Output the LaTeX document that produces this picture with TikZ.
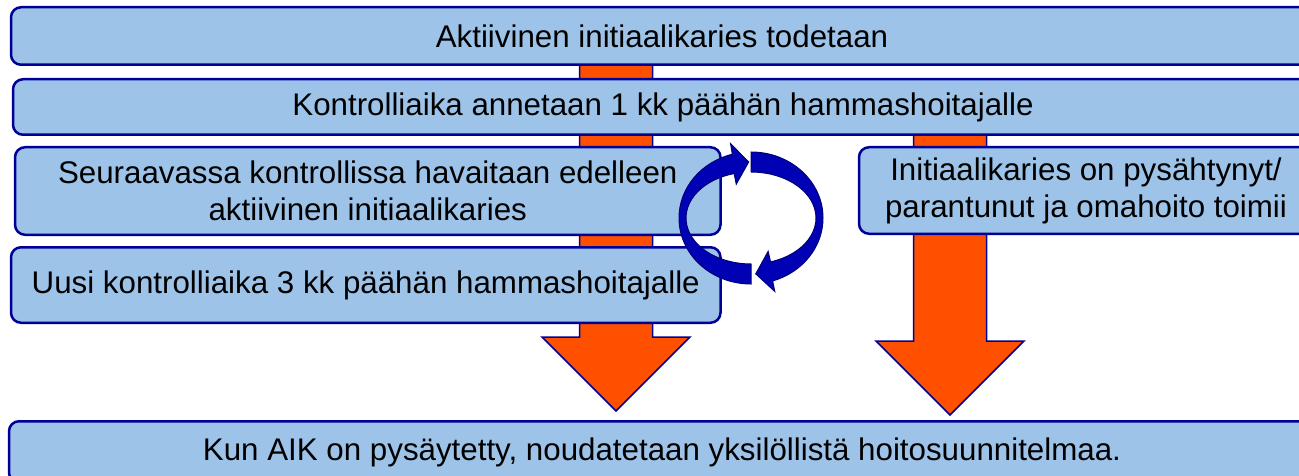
\documentclass[tikz,border=0pt]{standalone}
\usepackage{fontspec}
\setmainfont{Liberation Sans}
\usetikzlibrary{shapes,arrows,calc,positioning}
\definecolor{boxfill}{RGB}{157,195,233}
\definecolor{boxline}{RGB}{0,0,150}
\definecolor{arroworange}{RGB}{255,80,0}
\definecolor{cycleblue}{RGB}{0,0,180}
\definecolor{cycleline}{RGB}{0,0,120}
\tikzstyle{box} = [rectangle, rounded corners=10pt, draw=boxline, line width=2.5pt, fill=boxfill, inner sep=0pt, align=center, font=\fontsize{31.3}{37}\selectfont]
\tikzstyle{blockarrow} = [draw=boxline, line width=1.5pt, fill=arroworange, line join=miter]
\tikzstyle{cyclearrow} = [draw=cycleline, line width=1pt, fill=cycleblue, line join=miter]
\pgfdeclarelayer{background}
\pgfsetlayers{background,main}

% wide orange arrow pointing down: shaft centre x, shaft top, head base
\newcommand{\blockdown}[3]{%
  \draw [blockarrow] (#1-36.5,#2) -- (#1+36.5,#2) -- (#1+36.5,#3) -- (#1+74,#3)
    -- (#1,#3+74) -- (#1-74,#3) -- (#1-36.5,#3) -- cycle;
}

\begin{document}
\begin{tikzpicture}[x=1pt, y=-1pt]
	\useasboundingbox (0,0) rectangle (1299,476);
	\clip (0,0) rectangle (1299,476);

	\node [box, minimum width=1302pt, minimum height=57.5pt] (todetaan) at (662,36) {Aktiivinen initiaalikaries todetaan};
	\node [box, below=12pt of todetaan, xshift=1pt, minimum width=1300pt, minimum height=55.5pt] (annetaan) {Kontrolliaika annetaan 1 kk päähän hammashoitajalle};
	\node [box, below=10pt of annetaan.south west, anchor=north west, xshift=2pt, minimum width=705.5pt, minimum height=87.5pt] (havaitaan) {Seuraavassa kontrollissa havaitaan edelleen\\aktiivinen initiaalikaries};
	\node [box, below=10pt of havaitaan.south west, anchor=north west, xshift=-4pt, minimum width=709.5pt, minimum height=75.5pt] (uusi) {Uusi kontrolliaika 3 kk päähän hammashoitajalle};
	\node [box, right=136pt of havaitaan.north east, anchor=north west, minimum width=454pt, minimum height=86.5pt] (pysahtynyt) {Initiaalikaries on pysähtynyt/\\parantunut ja omahoito toimii};
	\node [box, below=96pt of uusi.south west, anchor=north west, xshift=-2pt, minimum width=1306pt, minimum height=61.5pt] (noudatetaan) {Kun AIK on pysäytetty, noudatetaan yksilöllistä hoitosuunnitelmaa.};

	% orange arrows run behind the boxes
	\begin{pgfonlayer}{background}
		\blockdown{616}{50}{337}
		\blockdown{950}{110}{341}
	\end{pgfonlayer}

	% the two curved arrows that go round between the boxes
	\coordinate (kierto) at (751,218);
	\draw [cyclearrow] ($(kierto)+(90:72 and 66)$) arc [start angle=90, end angle=255, x radius=72, y radius=66]
		-- ($(kierto)+(255:79 and 77)$) -- ($(kierto)+(268:68 and 56)$) -- ($(kierto)+(255:57 and 35)$)
		-- ($(kierto)+(255:65 and 46)$) arc [start angle=255, end angle=90, x radius=65, y radius=46] -- cycle;
	\draw [cyclearrow] ($(kierto)+(270:72 and 66)$) arc [start angle=270, end angle=432.5, x radius=72, y radius=66]
		-- ($(kierto)+(432.5:79 and 77)$) -- ($(kierto)+(446:68 and 56)$) -- ($(kierto)+(432.5:57 and 35)$)
		-- ($(kierto)+(432.5:65 and 46)$) arc [start angle=432.5, end angle=270, x radius=65, y radius=46] -- cycle;
\end{tikzpicture}
\end{document}
